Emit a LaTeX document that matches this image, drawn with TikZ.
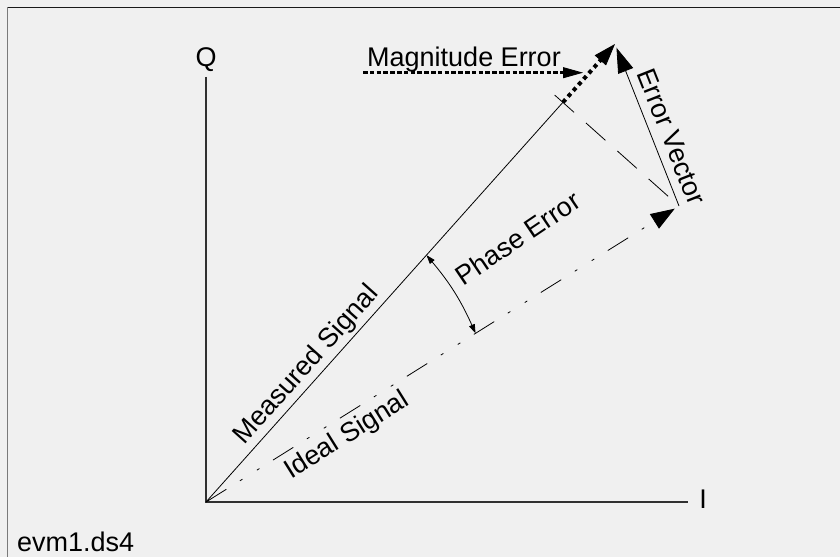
\documentclass[tikz,border=0pt]{standalone}
\usepackage{fontspec}
\setmainfont{Liberation Sans}
\usetikzlibrary{arrows.meta,calc}
\definecolor{bgcol}{HTML}{F0F0F0}
\definecolor{framedark}{HTML}{1A1A1A}
\definecolor{framegray}{HTML}{7A7A7A}
\definecolor{axiscol}{HTML}{303030}
\begin{document}
\begin{tikzpicture}[x=1pt,y=1pt,
  lbl/.style={inner sep=0pt, anchor=base, font=\fontsize{27}{32}\selectfont},
  vline/.style={line width=0.8pt, black},
  axisline/.style={line width=1.3pt, axiscol},
  bigtip/.style 2 args={-{Triangle[length=#1pt, width=#2pt]}},
  magline/.style={line width=3.6pt, dash pattern=on 4.5pt off 2.3pt},
  magdiag/.style={line width=4pt, dash pattern=on 4pt off 3.8pt},
  idealline/.style={line width=0.8pt, dash pattern=on 24pt off 16pt on 3pt off 17pt on 3pt off 16pt},
  projline/.style={line width=0.8pt, dash pattern=on 26pt off 16pt},
  smalltips/.style={{Triangle[length=9pt,width=6pt]}-{Triangle[length=9pt,width=6pt]}, line width=0.8pt}
]
\fill[bgcol] (0,0) rectangle (840,557);
\useasboundingbox (0,0) rectangle (840,557);
% frame
\coordinate (FTL) at (7.5,549.5);
\coordinate (FTR) at (840,549.5);
\coordinate (FBL) at (7.5,0);
\draw[framedark, line width=1.6pt] (FTL) -- (FTR);
\draw[framegray, line width=1.6pt] (FTL) -- (FBL);
% key points
\coordinate (O) at (206,55);
\coordinate (M) at (615,513);
\coordinate (E) at (679,351);
\coordinate (Qtop) at (206,480);
\coordinate (Iend) at (688,55);
\coordinate (P) at ($(O)!(E)!(M)$);
\coordinate (Pext) at ($(P)!-11pt!(E)$);
\coordinate (A) at ($(O)!331pt!(M)$);
\coordinate (B) at ($(O)!318pt!(E)$);
\coordinate (H0) at (363,484.3);
\coordinate (H1) at (583,484.3);
% axes
\draw[axisline] (Qtop) -- (O) -- (Iend);
\node[lbl] (qlab) at (206,490) {Q};
\node[lbl] (ilab) at (703,49) {I};
% measured signal
\draw[vline] (O) -- (P);
% magnitude error (dotted extension)
\draw[magdiag] (P) -- ($(M)!19pt!(P)$);
\draw[vline, bigtip={22}{15}] ($(M)!22pt!(P)$) -- (M);
% projection dashed line
\draw[projline] (Pext) -- (E);
% ideal signal
\draw[idealline] (O) -- ($(E)!26pt!(O)$);
\draw[vline, bigtip={24}{17}, shorten >=5pt] ($(E)!29pt!(O)$) -- (E);
% error vector
\draw[vline, bigtip={25}{16}, shorten >=4pt] (E) -- (M);
% magnitude error horizontal arrow
\draw[magline] (H0) -- ($(H1)+(-19,0)$);
\draw[vline, bigtip={20}{11}] ($(H1)+(-20,0)$) -- (H1);
% phase error arc
\draw[smalltips] (A) to[bend left=8] (B);
% labels
\node[lbl] (maglab) at (367,490) [anchor=base west] {Magnitude Error};
\node[lbl, rotate=48.24] (meas) at (312,187) {Measured Signal};
\node[lbl, rotate=32.0] (ideal) at (351,115) {Ideal Signal};
\node[lbl, rotate=34] (phase) at (523,311) {Phase Error};
\node[lbl, rotate=-68.4] (errv) at (663,417) {Error Vector};
\node[lbl, anchor=base west] (fname) at (17,6) {evm1.ds4};
\end{tikzpicture}
\end{document}
